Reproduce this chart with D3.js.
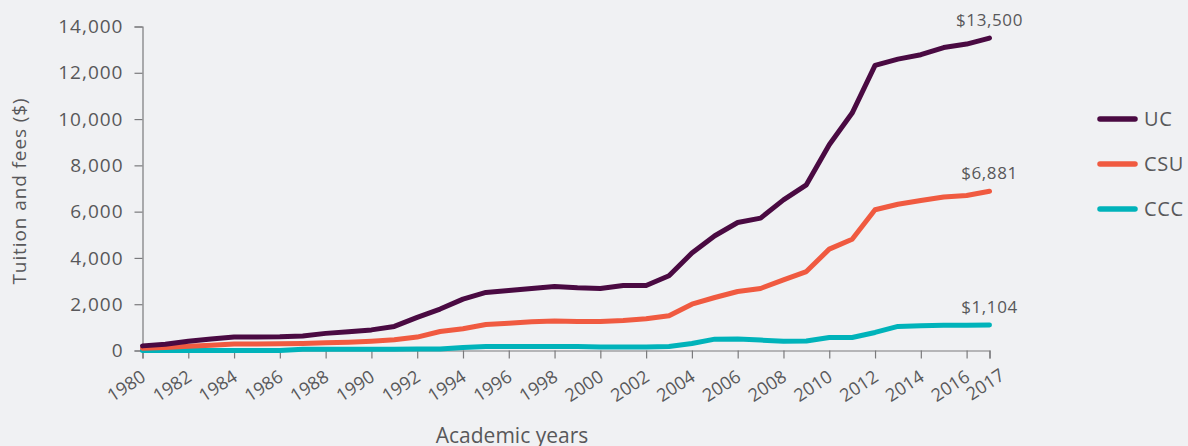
<!DOCTYPE html>
<html>
<head>
<meta charset="utf-8">
<script src="https://cdn.jsdelivr.net/npm/d3@7"></script>
<style>
html,body{margin:0;padding:0;background:#f0f1f3;}
svg{display:block;font-family:"Open Sans",sans-serif;}
</style>
</head>
<body>
<svg id="chart" width="1188" height="446"></svg>
<script>
const years = d3.range(1980, 2018);
const ucValues = [200,270,400,500,580,580,590,630,740,810,890,1040,1430,1790,2220,2510,2590,2680,2770,2710,2680,2810,2810,3230,4210,4960,5530,5720,6510,7160,8890,10260,12320,12590,12780,13090,13240,13500];
const csuValues = [100,130,180,230,280,280,290,300,330,360,400,460,580,820,940,1120,1180,1240,1270,1255,1255,1300,1370,1500,2000,2290,2550,2680,3050,3410,4380,4810,6080,6320,6480,6630,6700,6881];
const cccValues = [0,0,0,0,0,0,0,50,50,50,50,50,60,60,130,170,170,170,170,170,150,150,150,170,300,490,500,450,400,410,560,560,780,1040,1070,1090,1095,1104];
const seriesNames = ["UC","CSU","CCC"];
const seriesColors = ["#4a0a42","#f05a40","#00b3ba"];
const endLabels = ["$13,500","$6,881","$1,104"];
const yTicks = [0,2000,4000,6000,8000,10000,12000,14000];
const xTicks = [1980,1982,1984,1986,1988,1990,1992,1994,1996,1998,2000,2002,2004,2006,2008,2010,2012,2014,2016,2017];
const yTitle = "Tuition and fees ($)";
const xTitle = "Academic years";

const series = [ucValues, csuValues, cccValues].map((v,i)=>({name:seriesNames[i], color:seriesColors[i], label:endLabels[i], values:v.map((y,j)=>({x:years[j], y}))}));

const svg = d3.select("#chart");
const x = d3.scaleLinear().domain([1980,2017]).range([142.5,989.5]);
const y = d3.scaleLinear().domain([0,14000]).range([350.5,26.5]);
const textColor = "#58585a";
const axisColor = "#7a7a7c";
const lastYear = xTicks[xTicks.length-1];

// y axis
const yAxis = svg.append("g").attr("transform","translate(142.5,0)")
  .call(d3.axisLeft(y).tickValues(yTicks).tickSize(8).tickPadding(11).tickFormat(d3.format(",")));
yAxis.select(".domain").attr("stroke",axisColor).attr("stroke-width",1.2);
yAxis.selectAll(".tick line").attr("stroke",axisColor).attr("stroke-width",1.2);
yAxis.selectAll(".tick text").attr("fill",textColor).attr("font-size",19).attr("letter-spacing",1)
  .attr("font-family","Open Sans, sans-serif");

// x axis
const xAxis = svg.append("g").attr("transform","translate(0,350.5)")
  .call(d3.axisBottom(x).tickValues(xTicks).tickSize(8).tickFormat(d3.format("d")));
xAxis.select(".domain").attr("stroke",axisColor).attr("stroke-width",1.2);
xAxis.selectAll(".tick line").attr("stroke",axisColor).attr("stroke-width",1.2);
xAxis.selectAll(".tick text").attr("fill",textColor).attr("font-size",18)
  .attr("font-family","Open Sans, sans-serif")
  .attr("text-anchor","end").attr("dy",null).attr("y",0).attr("x",0)
  .attr("transform",d=>d===lastYear ? "translate(16,28) rotate(-33)" : "translate(4,29.5) rotate(-33)");

// titles
svg.append("text").attr("transform","translate(26,191) rotate(-90)").attr("text-anchor","middle")
  .attr("fill",textColor).attr("font-size",19).attr("letter-spacing",0.9).text(yTitle);
svg.append("text").attr("x",512).attr("y",443).attr("text-anchor","middle")
  .attr("fill",textColor).attr("font-size",21).text(xTitle);

// lines
const line = d3.line().x(d=>x(d.x)).y(d=>y(d.y));
svg.append("g").selectAll("path").data(series.slice().reverse()).join("path")
  .attr("d",d=>line(d.values)).attr("fill","none").attr("stroke",d=>d.color)
  .attr("stroke-width",5).attr("stroke-linejoin","round").attr("stroke-linecap","round");

// end labels
svg.append("g").selectAll("text").data(series).join("text")
  .attr("x",d=>x(lastYear)).attr("y",d=>y(d.values[d.values.length-1].y)-12)
  .attr("text-anchor","middle").attr("fill",textColor).attr("font-size",17).attr("letter-spacing",0.6).text(d=>d.label);

// legend
const lg = svg.append("g").selectAll("g").data(series).join("g")
  .attr("transform",(d,i)=>`translate(1100,${119+i*45})`);
lg.append("line").attr("x1",0).attr("x2",35).attr("stroke",d=>d.color).attr("stroke-width",5.5).attr("stroke-linecap","round");
lg.append("text").attr("x",44).attr("y",7).attr("fill",textColor).attr("font-size",20).attr("letter-spacing",0.6).text(d=>d.name);
</script>
</body>
</html>
